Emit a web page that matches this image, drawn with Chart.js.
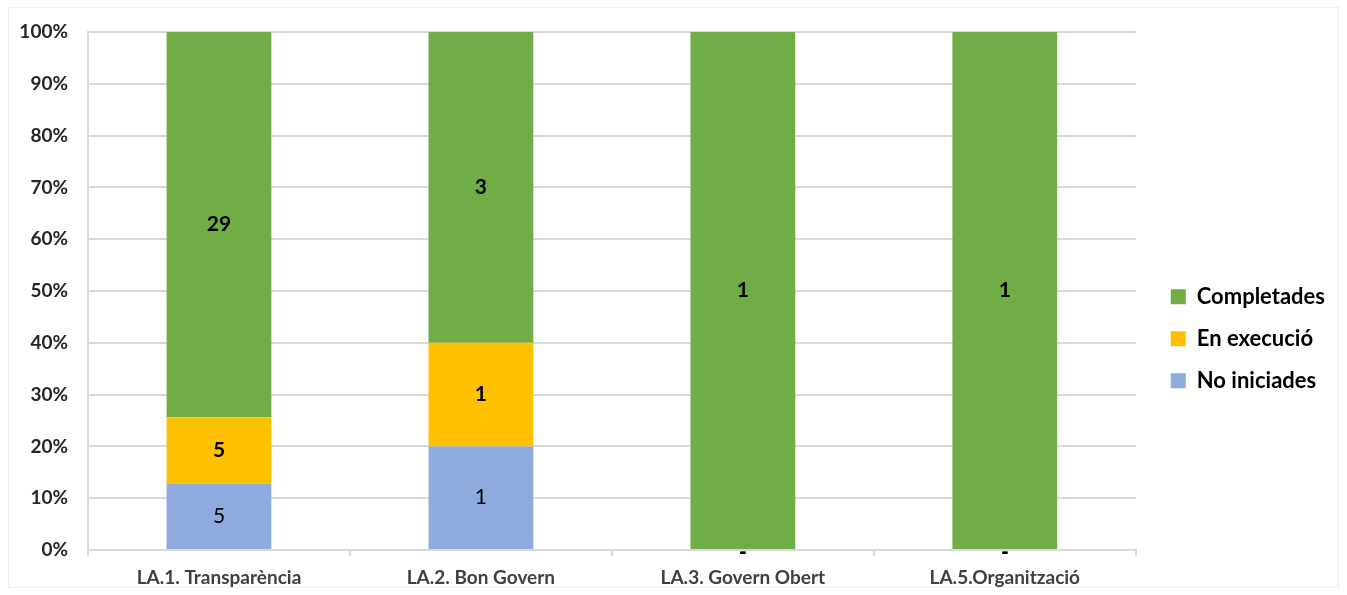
<!DOCTYPE html>
<html>
<head>
<meta charset="utf-8">
<script src="https://cdn.jsdelivr.net/npm/chart.js@4"></script>
<style>
  html, body { margin: 0; padding: 0; background: #fff; }
  #wrap { width: 1347px; height: 595px; }
</style>
</head>
<body>
<div id="wrap"><canvas id="graficaLineas"></canvas></div>
<script>
const categorias = ['LA.1. Transparència', 'LA.2. Bon Govern', 'LA.3. Govern Obert', 'LA.5.Organització'];
const noIniciades = [5, 1, 0, 0];
const enExecucio = [5, 1, 0, 0];
const completades = [29, 3, 1, 1];
const ticksY = [0, 10, 20, 30, 40, 50, 60, 70, 80, 90, 100];

const totales = categorias.map((_, i) => noIniciades[i] + enExecucio[i] + completades[i]);
const pct = arr => arr.map((v, i) => v / totales[i] * 100);

const fuente = 'Lato, "Open Sans", sans-serif';

// etiquetas dentro de las barras (valor absoluto)
const etiquetasBarras = {
    id: 'etiquetasBarras',
    afterDatasetsDraw(chart) {
        const ctx = chart.ctx;
        ctx.save();
        ctx.textAlign = 'center';
        ctx.textBaseline = 'middle';
        ctx.fillStyle = '#000';
        chart.data.datasets.forEach((ds, di) => {
            const meta = chart.getDatasetMeta(di);
            meta.data.forEach((bar, i) => {
                const v = ds.counts[i];
                const y = (bar.y + bar.base) / 2;
                ctx.font = (ds.boldLabel ? 'bold ' : '') + '21px ' + fuente;
                ctx.fillText(v === 0 ? '-' : String(v), bar.x, v === 0 ? bar.base + 2 : y);
            });
        });
        ctx.restore();
    }
};

const marco = {
    id: 'marco',
    beforeDraw(chart) {
        const ctx = chart.ctx;
        ctx.save();
        ctx.strokeStyle = '#eeeeee';
        ctx.lineWidth = 1;
        ctx.strokeRect(8.5, 7.5, chart.width - 17, chart.height - 15);
        ctx.restore();
    }
};

new Chart(document.getElementById('graficaLineas'), {
    type: 'bar',
    data: {
        labels: categorias,
        datasets: [
            { label: 'No iniciades', data: pct(noIniciades), counts: noIniciades, backgroundColor: '#8FAADC', boldLabel: false },
            { label: 'En execució', data: pct(enExecucio), counts: enExecucio, backgroundColor: '#FFC000', boldLabel: true },
            { label: 'Completades', data: pct(completades), counts: completades, backgroundColor: '#70AD47', boldLabel: true }
        ]
    },
    options: {
        responsive: true,
        maintainAspectRatio: false,
        animation: false,
        layout: { padding: { left: 14, right: 12, top: 32, bottom: 0 } },
        datasets: { bar: { categoryPercentage: 1, barPercentage: 0.4 } },
        scales: {
            x: {
                stacked: true,
                afterFit(axis) { axis.height = 45; },
                grid: { display: true, drawOnChartArea: false, offset: true, tickLength: 6, color: '#d9d9d9', lineWidth: 2 },
                border: { color: '#d9d9d9', width: 2 },
                ticks: { color: '#404040', font: { size: 19, family: fuente, weight: 'bold' }, padding: 10 }
            },
            y: {
                stacked: true,
                min: 0,
                max: 100,
                afterBuildTicks(axis) { axis.ticks = ticksY.map(v => ({ value: v })); },
                afterFit(axis) { axis.width = 74; },
                grid: { color: '#d9d9d9', lineWidth: 2, drawTicks: false },
                border: { color: '#d9d9d9', width: 2 },
                ticks: {
                    color: '#262626',
                    padding: 20,
                    font: { size: 19, family: fuente, weight: 'bold' },
                    callback: v => v + '%'
                }
            },
            // eje vacío: solo separa el área del gráfico de la leyenda
            hueco: {
                type: 'linear',
                position: 'right',
                display: true,
                afterFit(axis) { axis.width = 15; },
                grid: { display: false },
                border: { display: false },
                ticks: { display: false }
            }
        },
        plugins: {
            legend: {
                position: 'right',
                reverse: true,
                title: { display: true, text: ' ', font: { size: 12 }, padding: { top: 0, bottom: 36 } },
                labels: {
                    color: '#000',
                    boxWidth: 15,
                    boxHeight: 15,
                    padding: 20,
                    font: { size: 22, family: fuente, weight: 'bold' }
                }
            },
            tooltip: { enabled: false }
        }
    },
    plugins: [etiquetasBarras, marco]
});
</script>
</body>
</html>
